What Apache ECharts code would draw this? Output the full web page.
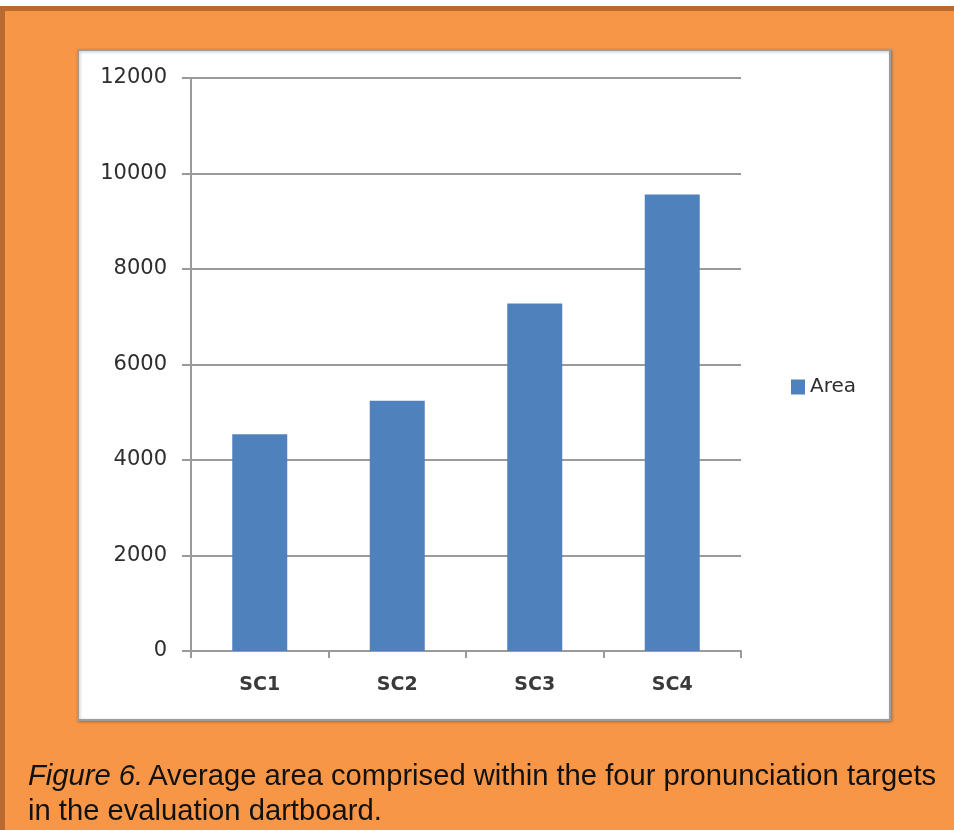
<!DOCTYPE html>
<html>
<head>
<meta charset="utf-8">
<script src="https://cdn.jsdelivr.net/npm/echarts@6/dist/echarts.min.js"></script>
<style>
  html, body { margin: 0; padding: 0; background: #ffffff; }
  #chart { width: 954px; height: 830px; }
</style>
</head>
<body>
<div id="chart"></div>
<script>
var categories = ["SC1", "SC2", "SC3", "SC4"]
var areaValues = [4540, 5240, 7280, 9560]
var seriesName = "Area"
var yTicks = { min: 0, max: 12000, interval: 2000 }

var myChart = echarts.init(document.getElementById("chart"))
var axisGrey = "#9a9a9a"
var textColor = "#2e2e2e"

var option = {
  backgroundColor: "#F79646",
  animation: false,
  graphic: [
    // white strip + darker frame edges
    { type: "rect", left: 0, top: 0, shape: { width: 954, height: 6 }, style: { fill: "#ffffff" } },
    { type: "rect", left: 0, top: 6, shape: { width: 954, height: 5 }, style: { fill: "#B86B30" } },
    { type: "rect", left: 0, top: 6, shape: { width: 5, height: 824 }, style: { fill: "#B86B30" } },
    // white chart panel
    {
      type: "rect", left: 77, top: 49, z: -1,
      shape: { width: 812, height: 670 },
      style: { fill: "#ffffff", stroke: "#9c9c9c", lineWidth: 2, shadowBlur: 3, shadowColor: "rgba(0,0,0,0.25)", shadowOffsetX: 1, shadowOffsetY: 1 }
    }
  ],
  title: {
    left: 23,
    top: 754,
    text: "{i|Figure 6.} {n|Average area comprised within the four pronunciation targets}\n{n|in the evaluation dartboard.}",
    textStyle: {
      fontWeight: "normal",
      rich: {
        i: { fontFamily: "Liberation Sans", fontStyle: "italic", fontWeight: "normal", fontSize: 29.2, color: "#111", lineHeight: 35 },
        n: { fontFamily: "Liberation Sans", fontWeight: "normal", fontSize: 29.2, color: "#111", lineHeight: 35 }
      }
    }
  },
  legend: {
    left: 786,
    top: 372,
    orient: "vertical",
    icon: "rect",
    itemWidth: 14,
    itemHeight: 15,
    itemGap: 4,
    textStyle: { fontFamily: "DejaVu Sans", fontSize: 20, color: textColor },
    data: [seriesName]
  },
  grid: {
    left: 191,
    top: 78,
    right: 213,
    bottom: 179,
    containLabel: false
  },
  xAxis: {
    type: "category",
    data: categories,
    axisLine: { show: true, lineStyle: { color: axisGrey, width: 2 } },
    axisTick: { show: true, length: 7, lineStyle: { color: axisGrey, width: 2 } },
    axisLabel: { margin: 25, fontFamily: "DejaVu Sans", fontWeight: "bold", fontSize: 19, color: "#3a3a3a" }
  },
  yAxis: {
    type: "value",
    min: yTicks.min,
    max: yTicks.max,
    interval: yTicks.interval,
    axisLine: { show: true, lineStyle: { color: axisGrey, width: 2 } },
    axisTick: { show: true, length: 9, lineStyle: { color: axisGrey, width: 2 } },
    splitLine: { show: true, lineStyle: { color: axisGrey, width: 2 } },
    axisLabel: {
      margin: 24, fontFamily: "DejaVu Sans", fontSize: 21, color: textColor,
      formatter: function (v) { return String(v) }
    }
  },
  series: [
    {
      name: seriesName,
      type: "bar",
      data: areaValues,
      barWidth: 55,
      itemStyle: { color: "#4F81BD" }
    }
  ]
}
myChart.setOption(option)
</script>
</body>
</html>
